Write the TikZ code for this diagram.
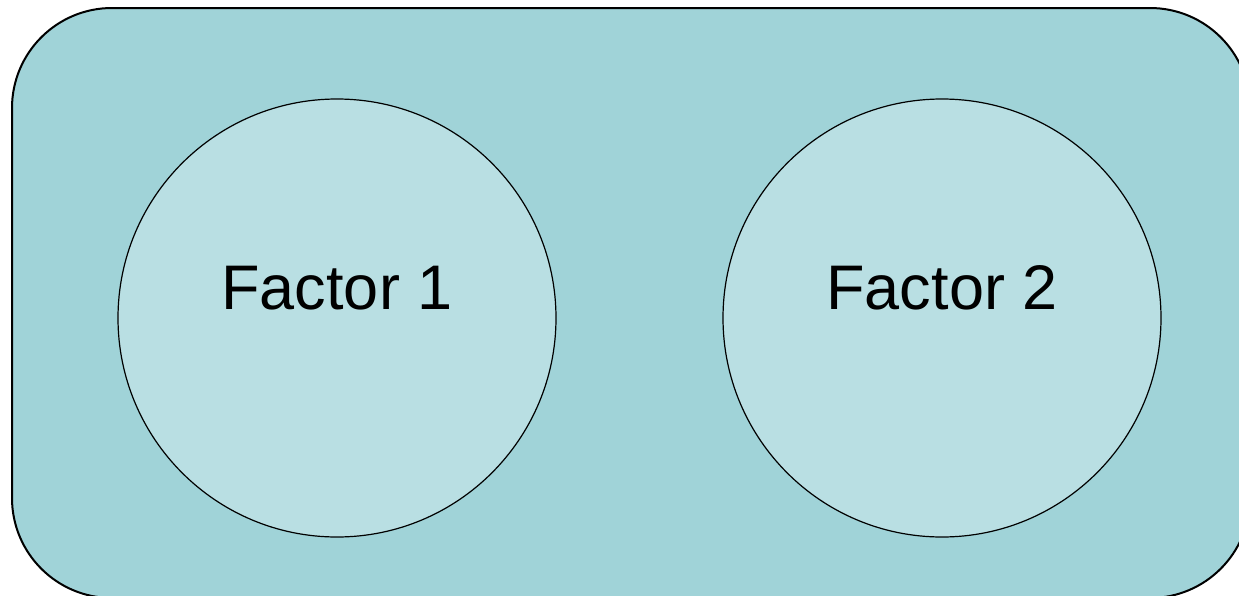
\documentclass[tikz,border=0pt]{standalone}
\usepackage{fontspec}
\setmainfont{Liberation Sans}
\definecolor{panelfill}{HTML}{A0D3D8}
\definecolor{factorfill}{HTML}{B9DFE3}
\tikzset{
  factor/.style={circle,draw=black,line width=1.2pt,fill=factorfill,minimum size=438pt,inner sep=0pt},
  factorlabel/.style={font=\fontsize{63}{70}\selectfont,anchor=base}
}
\begin{document}
\begin{tikzpicture}[x=1pt,y=-1pt]

\useasboundingbox (0,0) rectangle (1239,595);
\clip (0,0) rectangle (1239,595);

% --- panel ---
\draw[line width=2pt,fill=panelfill,rounded corners=100pt] (12,8) rectangle (1250,598);

% --- factors ---
\node[factor] (f1) at (337,318) {};
\node[factor] (f2) at (942,318) {};
\node[factorlabel] (t1) at (337,309) {Factor 1};
\node[factorlabel] (t2) at (942,309) {Factor 2};

\end{tikzpicture}
\end{document}
